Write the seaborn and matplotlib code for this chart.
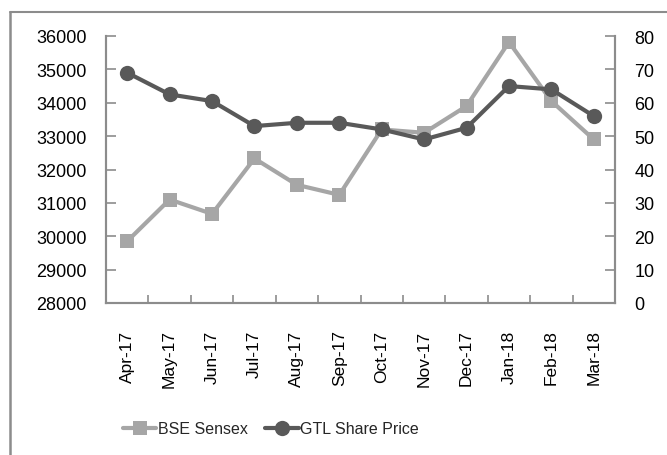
import pandas as pd
import matplotlib.pyplot as plt
import seaborn as sns
from matplotlib.lines import Line2D

months = ['Apr-17', 'May-17', 'Jun-17', 'Jul-17', 'Aug-17', 'Sep-17',
          'Oct-17', 'Nov-17', 'Dec-17', 'Jan-18', 'Feb-18', 'Mar-18']
bse_sensex = [29850, 31100, 30670, 32330, 31540, 31240,
              33200, 33100, 33900, 35820, 34050, 32900]
gtl_price = [69, 62.5, 60.5, 53, 54, 54, 52, 49, 52.5, 65, 64, 56]

df = pd.DataFrame({'Month': months, 'BSE Sensex': bse_sensex,
                   'GTL Share Price': gtl_price})
df['pos'] = range(len(months))

sns.set_theme(style="white")
plt.rcParams['font.family'] = ['Liberation Sans', 'DejaVu Sans']
plt.rcParams['font.size'] = 12

spine_col = '#8c8c8c'
bse_col = '#a6a6a6'
gtl_col = '#595959'

fig = plt.figure(figsize=(6.67, 4.56), dpi=100)
ax = fig.add_axes([106 / 667, 1 - 304 / 456, (615 - 106) / 667, (304 - 37) / 456])
ax2 = ax.twinx()

sns.lineplot(data=df, x='pos', y='BSE Sensex', ax=ax, color=bse_col,
             marker='s', markersize=10.5, markeredgewidth=0, linewidth=3,
             sort=False, label='BSE Sensex', legend=False)
sns.lineplot(data=df, x='pos', y='GTL Share Price', ax=ax2, color=gtl_col,
             marker='o', markersize=11, markeredgewidth=0, linewidth=3,
             sort=False, label='GTL Share Price', legend=False)

ax.set_xlim(-0.5, len(months) - 0.5)
ax.set_ylim(28000, 36000)
ax.set_yticks(range(28000, 36001, 1000))
ax2.set_ylim(0, 80)
ax2.set_yticks(range(0, 81, 10))

ax.set_xticks(range(len(months)))
ax.set_xticklabels(months, rotation=90)
ax.set_xticks([i - 0.5 for i in range(len(months) + 1)], minor=True)
ax.tick_params(axis='x', which='major', bottom=True, length=0, pad=19,
               labelsize=12.5, colors='black')
ax.tick_params(axis='x', which='minor', bottom=True, direction='in',
               length=6, width=1.2, color=spine_col)
ax.tick_params(axis='y', which='major', left=True, right=False, direction='in',
               length=7, width=1.2, color=spine_col, pad=14, labelsize=13,
               labelcolor='black')
ax2.tick_params(axis='y', which='major', right=True, left=False, direction='in',
                length=7, width=1.2, color=spine_col, pad=14, labelsize=13,
                labelcolor='black')
ax2.tick_params(axis='x', which='both', bottom=False, top=False)

for a in (ax, ax2):
    a.set_xlabel('')
    a.set_ylabel('')
    a.grid(False)
    for side in ('left', 'right', 'bottom'):
        a.spines[side].set_visible(True)
        a.spines[side].set_color(spine_col)
        a.spines[side].set_linewidth(1.5)
    a.spines['top'].set_visible(False)

handles = [ax.lines[0], ax2.lines[0]]
fig.legend(handles, ['BSE Sensex', 'GTL Share Price'], loc='center',
           bbox_to_anchor=(271 / 667, 1 - 430 / 456), ncol=2, frameon=False,
           handlelength=2.1, handletextpad=0.1, columnspacing=1.1, fontsize=11.5)

# outer chart border (left and top edges visible)
fig.add_artist(Line2D([9.5 / 667, 9.5 / 667], [0, 1 - 13 / 456],
                      transform=fig.transFigure, color=spine_col, linewidth=1.8))
fig.add_artist(Line2D([9.5 / 667, 1], [1 - 13 / 456, 1 - 13 / 456],
                      transform=fig.transFigure, color=spine_col, linewidth=1.5))

fig.savefig('out.png', dpi=100)
